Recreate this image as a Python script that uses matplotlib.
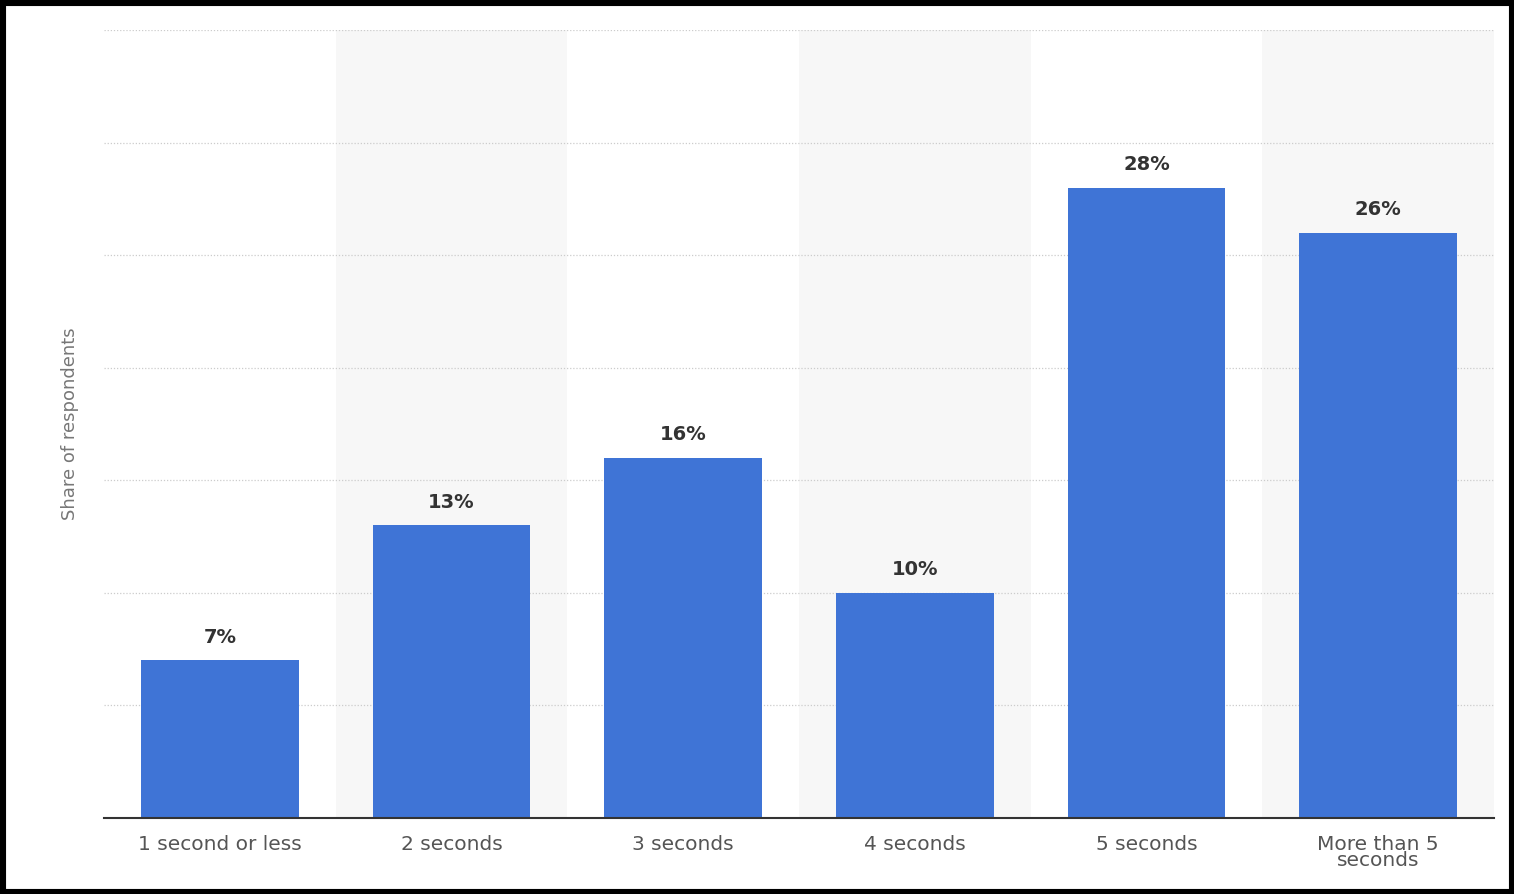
import matplotlib
matplotlib.use("Agg")
import matplotlib.pyplot as plt
from matplotlib.patches import Rectangle

categories = ["1 second or less", "2 seconds", "3 seconds", "4 seconds", "5 seconds", "More than 5\nseconds"]
values = [7, 13, 16, 10, 28, 26]
labels = ["7%", "13%", "16%", "10%", "28%", "26%"]

fig = plt.figure(figsize=(15.14, 8.94), dpi=100, facecolor="white")
ax = fig.add_axes([104/1514, 1-818/894, 1390/1514, 788/894])
ax.set_facecolor("none")
ax.set_xlim(-0.5, len(categories)-0.5)
ax.set_ylim(0, 35)
for i in range(len(categories)):
    if i % 2 == 1:
        ax.axvspan(i-0.5, i+0.5, color="#f7f7f7", zorder=0, lw=0)
for y in range(5, 36, 5):
    ax.axhline(y, color="#cccccc", lw=0.9, ls=(0, (1, 1.5)), zorder=1)
ax.bar(range(len(values)), values, width=0.68, color="#3f74d6", zorder=2)
for i, (v, t) in enumerate(zip(values, labels)):
    ax.text(i, v + 0.6, t, ha="center", va="bottom", fontsize=14, color="#333333", fontweight="semibold")
for s in ["top", "right", "left"]:
    ax.spines[s].set_visible(False)
ax.spines["bottom"].set_color("#333333")
ax.spines["bottom"].set_linewidth(1.5)
ax.set_yticks([])
ax.set_xticks(range(len(categories)))
ax.set_xticklabels(categories, fontsize=14.5, color="#555555", linespacing=0.85)
ax.tick_params(axis="x", length=0, pad=12)
ax.set_ylabel("Share of respondents", fontsize=13, color="#777777", labelpad=18)
fig.patches.append(Rectangle((0, 0), 1, 1, transform=fig.transFigure,
                             facecolor="none", edgecolor="black", linewidth=8, zorder=10))
fig.savefig("out.png", dpi=100, facecolor="white")
